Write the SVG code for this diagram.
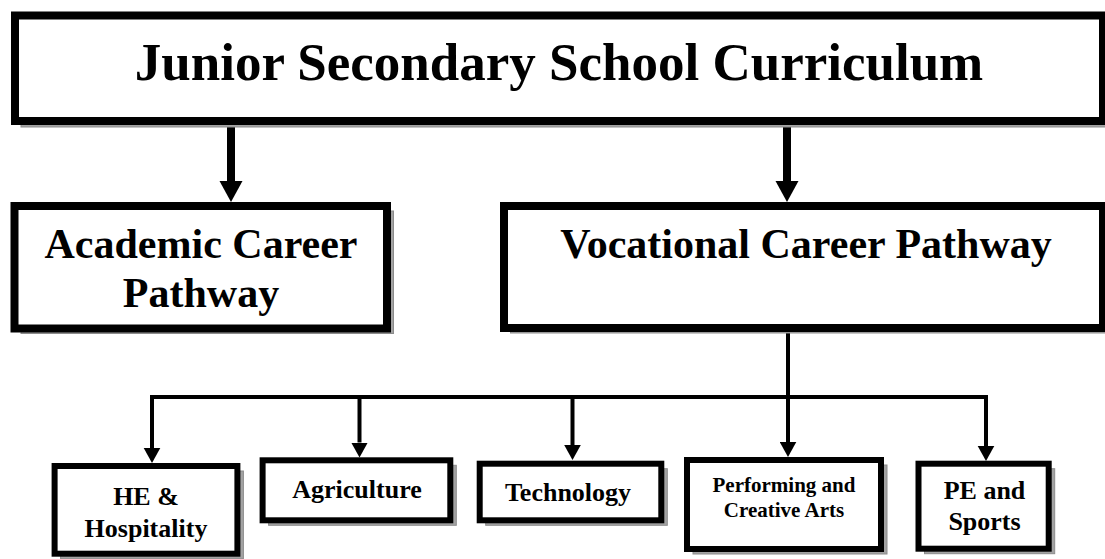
<svg xmlns="http://www.w3.org/2000/svg" width="1105" height="559" viewBox="0 0 1105 559">
<defs>
<style>
.box{fill:#fff;stroke:#000;stroke-width:8}
.sbox{fill:#fff;stroke:#000;stroke-width:6}
.shadow{fill:#a3a3a3;stroke:#8c8c8c;stroke-width:1}
.t{font-family:"Liberation Serif","Times New Roman",serif;font-weight:bold;fill:#000;text-anchor:middle}
.big{stroke:#000;stroke-width:8;fill:none}
.thin{stroke:#000;stroke-width:4;fill:none}
</style>
<marker id="ahb" viewBox="0 -12 21 24" refX="0" refY="0" markerWidth="21" markerHeight="24" markerUnits="userSpaceOnUse" orient="auto">
<path d="M0,-11.5 L21,0 L0,11.5 Z" fill="#000"/>
</marker>
<marker id="ah" viewBox="0 -8.5 15 17" refX="0" refY="0" markerWidth="15" markerHeight="17" markerUnits="userSpaceOnUse" orient="auto">
<path d="M0,-8.3 L15,0 L0,8.3 Z" fill="#000"/>
</marker>
</defs>
<rect width="1105" height="559" fill="#fff"/>

<g id="connectors">
<line class="big" x1="231" y1="125" x2="231" y2="181" marker-end="url(#ahb)"/>
<line class="big" x1="787" y1="125" x2="787" y2="181" marker-end="url(#ahb)"/>
<path class="thin" d="M152,448 V397 H986 V446" stroke-linejoin="miter"/>
<line class="thin" x1="788" y1="330" x2="788" y2="442" marker-end="url(#ah)"/>
<line class="thin" x1="359.5" y1="397" x2="359.5" y2="442.5" marker-end="url(#ah)"/>
<line class="thin" x1="572.5" y1="397" x2="572.5" y2="445" marker-end="url(#ah)"/>
<path d="M143.7,448 L160.3,448 L152,463 Z" fill="#000"/>
<path d="M977.7,446 L994.3,446 L986,461 Z" fill="#000"/>
</g>

<g id="top">
<rect class="shadow" x="21" y="21.5" width="1088" height="105.5"/>
<rect class="box" x="15" y="15.5" width="1088" height="105.5"/>
<text class="t" x="559" y="80" font-size="53">Junior Secondary School Curriculum</text>
</g>

<g id="academic">
<rect class="shadow" x="21" y="211" width="372.5" height="122.5"/>
<rect class="box" x="14.5" y="206" width="372.5" height="122.5"/>
<text class="t" x="201" y="258" font-size="42">Academic Career</text>
<text class="t" x="201" y="307" font-size="42">Pathway</text>
</g>

<g id="vocational">
<rect class="shadow" x="510.5" y="211" width="599" height="122"/>
<rect class="box" x="504" y="206" width="599" height="122"/>
<text class="t" x="806" y="258" font-size="42">Vocational Career Pathway</text>
</g>

<g id="he">
<rect class="shadow" x="60.6" y="471" width="182.8" height="87.7"/>
<rect class="sbox" x="54.6" y="466" width="182.8" height="87.7"/>
<text class="t" x="146" y="505" font-size="26">HE &amp;</text>
<text class="t" x="146" y="537" font-size="26">Hospitality</text>
</g>

<g id="agriculture">
<rect class="shadow" x="268.6" y="465.3" width="187.7" height="60"/>
<rect class="sbox" x="262.6" y="460.3" width="187.7" height="60"/>
<text class="t" x="357" y="498" font-size="26">Agriculture</text>
</g>

<g id="technology">
<rect class="shadow" x="485.7" y="468.7" width="181.6" height="56.6"/>
<rect class="sbox" x="479.7" y="463.7" width="181.6" height="56.6"/>
<text class="t" x="568" y="501" font-size="26">Technology</text>
</g>

<g id="performing">
<rect class="shadow" x="693" y="465" width="194" height="89"/>
<rect class="sbox" x="687" y="460" width="194" height="89"/>
<text class="t" x="784" y="492" font-size="21">Performing and</text>
<text class="t" x="784" y="517" font-size="21">Creative Arts</text>
</g>

<g id="pe">
<rect class="shadow" x="924.5" y="468.7" width="130.2" height="85"/>
<rect class="sbox" x="918.5" y="463.7" width="130.2" height="85"/>
<text class="t" x="984.5" y="499" font-size="26">PE and</text>
<text class="t" x="984.5" y="530" font-size="26">Sports</text>
</g>
</svg>
